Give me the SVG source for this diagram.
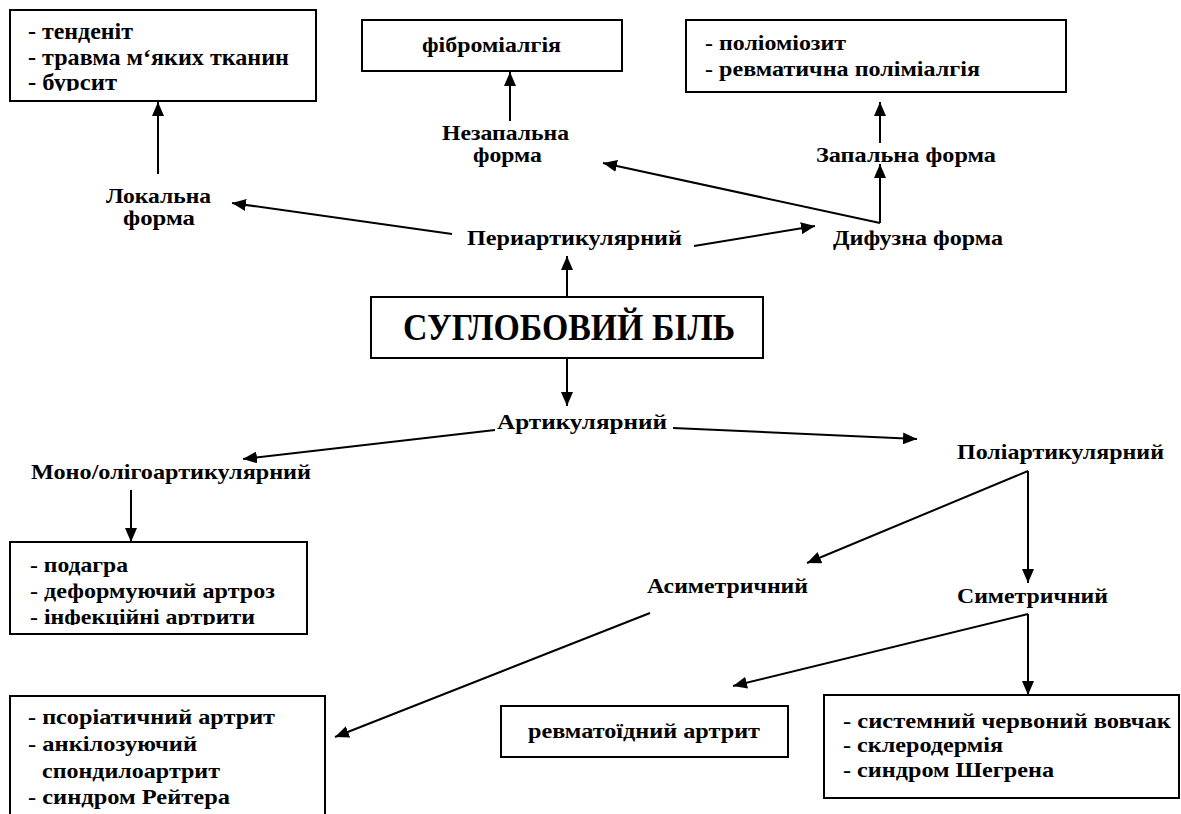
<svg xmlns="http://www.w3.org/2000/svg" width="1181" height="814" viewBox="0 0 1181 814">
<style>
text{font-family:"Liberation Serif","Times New Roman",serif;font-weight:bold;fill:#000}
.box{fill:#fff;stroke:#000;stroke-width:2}
.c line{stroke:#000;stroke-width:2;marker-end:url(#ah)}
.s23{font-size:23px}.s22{font-size:22px}.s21{font-size:21px}
</style>
<defs>
<marker id="ah" markerUnits="userSpaceOnUse" markerWidth="14" markerHeight="12" refX="14" refY="6" orient="auto">
<path d="M0,0 L14,6 L0,12 z" fill="#000"/>
</marker>
<clipPath id="cp1"><rect x="11" y="11" width="304" height="80"/></clipPath>
<clipPath id="cp2"><rect x="11" y="543" width="295" height="82"/></clipPath>
</defs>
<rect width="1181" height="814" fill="#fff"/>
<g class="c" id="connectors">
<line x1="158" y1="174" x2="158" y2="102"/>
<line x1="510" y1="121" x2="510" y2="72"/>
<line x1="880" y1="143" x2="880" y2="102"/>
<line x1="880" y1="223" x2="880" y2="164"/>
<line x1="880" y1="223" x2="603" y2="163"/>
<line x1="452" y1="234" x2="232" y2="203"/>
<line x1="694" y1="246" x2="815" y2="226"/>
<line x1="567" y1="297" x2="567" y2="256"/>
<line x1="567" y1="358" x2="567" y2="406"/>
<line x1="495" y1="430" x2="243" y2="459"/>
<line x1="673" y1="428" x2="917" y2="439"/>
<line x1="1028" y1="471" x2="807" y2="563"/>
<line x1="1028" y1="471" x2="1028" y2="583"/>
<line x1="131" y1="490" x2="131" y2="542"/>
<line x1="650" y1="613" x2="335" y2="737"/>
<line x1="1028" y1="614" x2="733" y2="686"/>
<line x1="1028" y1="614" x2="1028" y2="695"/>
</g>
<g id="local-list">
<rect class="box" x="10" y="10" width="306" height="91"/>
<g clip-path="url(#cp1)">
<text class="s23" x="28" y="39" textLength="105" lengthAdjust="spacingAndGlyphs">- тенденіт</text>
<text class="s23" x="28" y="65" textLength="261" lengthAdjust="spacingAndGlyphs">- травма м‘яких тканин</text>
<text class="s23" x="28" y="90" textLength="89" lengthAdjust="spacingAndGlyphs">- бурсит</text>
</g>
</g>
<g id="fibro">
<rect class="box" x="362" y="20" width="260" height="51"/>
<text class="s22" x="422" y="52" textLength="139" lengthAdjust="spacingAndGlyphs">фіброміалгія</text>
</g>
<g id="inflam-list">
<rect class="box" x="686" y="20" width="380" height="72"/>
<text class="s22" x="705" y="50" textLength="141" lengthAdjust="spacingAndGlyphs">- поліоміозит</text>
<text class="s22" x="705" y="76" textLength="275" lengthAdjust="spacingAndGlyphs">- ревматична поліміалгія</text>
</g>
<g id="nonInflam">
<text class="s21" x="442" y="140" textLength="127" lengthAdjust="spacingAndGlyphs">Незапальна</text>
<text class="s21" x="473" y="162" textLength="69" lengthAdjust="spacingAndGlyphs">форма</text>
</g>
<g id="inflam"><text class="s21" x="816" y="162" textLength="180" lengthAdjust="spacingAndGlyphs">Запальна форма</text></g>
<g id="localForm">
<text class="s21" x="106" y="203" textLength="105" lengthAdjust="spacingAndGlyphs">Локальна</text>
<text class="s21" x="123" y="225" textLength="72" lengthAdjust="spacingAndGlyphs">форма</text>
</g>
<g id="periart"><text class="s21" x="467" y="245" textLength="215" lengthAdjust="spacingAndGlyphs">Периартикулярний</text></g>
<g id="diffuse"><text class="s21" x="833" y="245" textLength="170" lengthAdjust="spacingAndGlyphs">Дифузна форма</text></g>
<g id="main">
<rect class="box" x="371" y="297" width="392" height="61"/>
<text x="403" y="340" font-size="37" textLength="332" lengthAdjust="spacingAndGlyphs">СУГЛОБОВИЙ БІЛЬ</text>
</g>
<g id="artic"><text class="s21" x="497" y="429" textLength="170" lengthAdjust="spacingAndGlyphs">Артикулярний</text></g>
<g id="mono"><text class="s21" x="31" y="479" textLength="280" lengthAdjust="spacingAndGlyphs">Моно/олігоартикулярний</text></g>
<g id="poly"><text class="s21" x="957" y="459" textLength="207" lengthAdjust="spacingAndGlyphs">Поліартикулярний</text></g>
<g id="asym"><text class="s21" x="647" y="593" textLength="161" lengthAdjust="spacingAndGlyphs">Асиметричний</text></g>
<g id="sym"><text class="s21" x="957" y="603" textLength="151" lengthAdjust="spacingAndGlyphs">Симетричний</text></g>
<g id="mono-list">
<rect class="box" x="10" y="542" width="297" height="92"/>
<g clip-path="url(#cp2)">
<text class="s22" x="30" y="572" textLength="98" lengthAdjust="spacingAndGlyphs">- подагра</text>
<text class="s22" x="30" y="598" textLength="245" lengthAdjust="spacingAndGlyphs">- деформуючий артроз</text>
<text class="s22" x="30" y="624" textLength="225" lengthAdjust="spacingAndGlyphs">- інфекційні артрити</text>
</g>
</g>
<g id="ra">
<rect class="box" x="501" y="706" width="287" height="51"/>
<text class="s22" x="528" y="738" textLength="232" lengthAdjust="spacingAndGlyphs">ревматоїдний артрит</text>
</g>
<g id="sym-list">
<rect class="box" x="824" y="695" width="355" height="103"/>
<text class="s22" x="843" y="728" textLength="328" lengthAdjust="spacingAndGlyphs">- системний червоний вовчак</text>
<text class="s22" x="843" y="752" textLength="160" lengthAdjust="spacingAndGlyphs">- склеродермія</text>
<text class="s22" x="843" y="777" textLength="211" lengthAdjust="spacingAndGlyphs">- синдром Шегрена</text>
</g>
<g id="asym-list">
<rect class="box" x="10" y="696" width="315" height="130"/>
<text class="s22" x="28" y="724" textLength="247" lengthAdjust="spacingAndGlyphs">- псоріатичний артрит</text>
<text class="s22" x="28" y="751" textLength="169" lengthAdjust="spacingAndGlyphs">- анкілозуючий</text>
<text class="s22" x="42" y="778" textLength="178" lengthAdjust="spacingAndGlyphs">спондилоартрит</text>
<text class="s22" x="28" y="804" textLength="202" lengthAdjust="spacingAndGlyphs">- синдром Рейтера</text>
</g>
</svg>
